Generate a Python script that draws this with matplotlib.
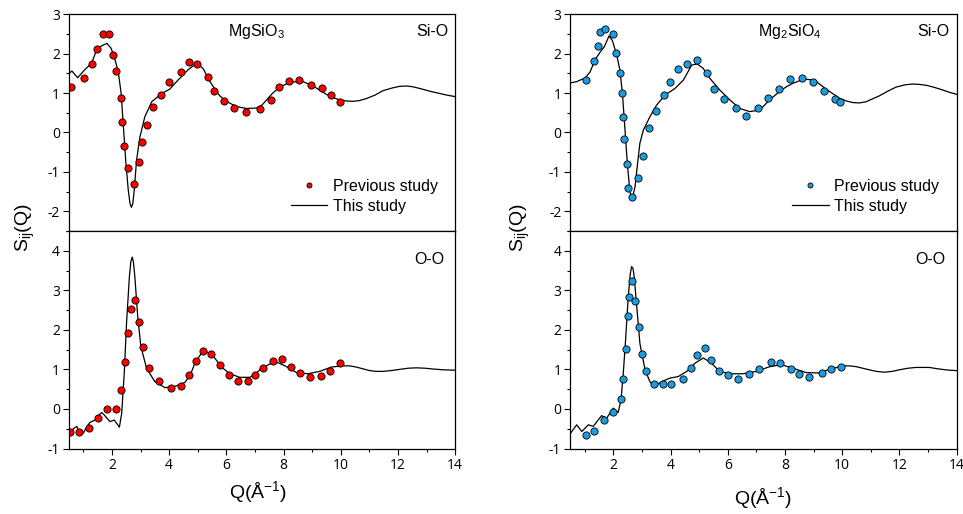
import matplotlib.pyplot as plt
from matplotlib.ticker import MultipleLocator

plt.rcParams['font.family'] = ['Liberation Sans', 'DejaVu Sans']
plt.rcParams['mathtext.default'] = 'regular'
plt.rcParams['axes.unicode_minus'] = False

# MgSiO3, Si-O partial
q_ms_sio = [0.5, 0.6, 0.8, 1.06, 1.29, 1.47, 1.64, 1.82, 1.97, 2.11, 2.22, 2.32, 2.40, 2.48, 2.57, 2.63,
            2.68, 2.73, 2.78, 2.86, 2.98, 3.15, 3.39, 3.74, 4.02, 4.31, 4.66, 4.96, 5.19, 5.42, 5.6, 5.77,
            6.0, 6.24, 6.47, 6.70, 7.05, 7.25, 7.40, 7.62, 7.86, 8.21, 8.45, 8.68, 9.03, 9.25, 9.49, 9.75,
            9.96, 10.2, 10.42, 10.65, 10.89, 11.2, 11.47, 11.8, 12.05, 12.3, 12.52, 12.8, 13.10, 13.4,
            13.7, 14.0]
s_ms_sio = [1.50, 1.56, 1.39, 1.60, 1.76, 2.11, 2.20, 2.26, 2.14, 1.84, 1.54, 1.00, 0.15, -0.70, -1.46, -1.80,
            -1.90, -1.80, -1.46, -0.70, -0.11, 0.40, 0.78, 0.99, 1.10, 1.33, 1.59, 1.76, 1.62, 1.30, 1.10, 0.93,
            0.79, 0.70, 0.64, 0.61, 0.62, 0.70, 0.82, 1.00, 1.15, 1.27, 1.29, 1.29, 1.18, 1.08, 0.97, 0.88,
            0.83, 0.80, 0.79, 0.81, 0.86, 0.95, 1.06, 1.13, 1.17, 1.18, 1.16, 1.11, 1.05, 1.00,
            0.95, 0.91]
q_ms_sio_ref = [0.57, 1.03, 1.30, 1.48, 1.69, 1.91, 2.02, 2.15, 2.30, 2.35, 2.41, 2.55, 2.76, 2.94, 3.06,
                3.21, 3.42, 3.72, 4.00, 4.40, 4.69, 4.97, 5.35, 5.55, 5.90, 6.28, 6.68, 7.17, 7.55, 7.84,
                8.20, 8.55, 8.97, 9.33, 9.65, 9.96]
s_ms_sio_ref = [1.16, 1.39, 1.74, 2.13, 2.49, 2.51, 1.96, 1.57, 0.88, 0.27, -0.35, -0.91, -1.30, -0.76, -0.24,
                0.19, 0.64, 0.96, 1.29, 1.54, 1.78, 1.74, 1.42, 1.05, 0.79, 0.62, 0.51, 0.60, 0.83, 1.16,
                1.31, 1.33, 1.20, 1.13, 0.94, 0.77]

# MgSiO3, O-O partial
q_ms_oo = [0.5, 0.65, 0.77, 0.88, 1.0, 1.12, 1.23, 1.41, 1.52, 1.64, 1.73, 1.82, 1.93, 2.08, 2.18, 2.26,
           2.34, 2.43, 2.51, 2.61, 2.66, 2.71, 2.75, 2.80, 2.90, 3.01, 3.21, 3.50, 3.85, 4.20, 4.55, 4.75,
           4.90, 5.1, 5.30, 5.54, 5.83, 6.12, 6.47, 6.82, 7.0, 7.17, 7.52, 7.81, 8.10, 8.45, 8.85, 9.26,
           9.67, 10.08, 10.3, 10.54, 10.8, 11.01, 11.25, 11.47, 11.75, 12.05, 12.35, 12.64, 12.95, 13.22,
           13.6, 14.0]
s_ms_oo = [-0.65, -0.50, -0.44, -0.61, -0.61, -0.45, -0.34, -0.28, -0.17, -0.09, -0.15, -0.23, -0.32, -0.28,
           -0.38, -0.46, -0.11, 0.90, 2.17, 3.35, 3.72, 3.84, 3.72, 3.35, 2.34, 1.58, 1.03, 0.69, 0.54, 0.57,
           0.67, 0.88, 1.16, 1.38, 1.45, 1.34, 1.06, 0.89, 0.80, 0.80, 0.88, 0.99, 1.14, 1.17, 1.07, 0.92,
           0.89, 0.95, 1.06, 1.09, 1.09, 1.06, 1.01, 0.97, 0.95, 0.95, 0.97, 1.0, 1.03, 1.04, 1.03, 1.01,
           0.99, 0.98]
q_ms_oo_ref = [0.53, 0.86, 1.21, 1.50, 1.83, 2.14, 2.30, 2.44, 2.55, 2.65, 2.82, 2.94, 3.08, 3.30, 3.64,
               4.06, 4.40, 4.68, 4.93, 5.18, 5.48, 5.77, 6.08, 6.39, 6.74, 7.00, 7.28, 7.63, 7.95, 8.25,
               8.56, 8.92, 9.31, 9.61, 9.98]
s_ms_oo_ref = [-0.57, -0.57, -0.47, -0.22, 0.0, 0.0, 0.48, 1.18, 1.91, 2.52, 2.75, 2.21, 1.56, 1.03, 0.70,
               0.53, 0.59, 0.86, 1.21, 1.46, 1.38, 1.10, 0.86, 0.70, 0.70, 0.86, 1.04, 1.22, 1.26, 1.07,
               0.92, 0.80, 0.84, 0.97, 1.17]

# Mg2SiO4, Si-O partial
q_fo_sio = [0.5, 0.72, 0.84, 1.01, 1.19, 1.36, 1.53, 1.69, 1.85, 1.97, 2.12, 2.23, 2.32, 2.41, 2.49, 2.58,
            2.66, 2.76, 2.85, 2.93, 3.05, 3.28, 3.52, 3.81, 4.16, 4.45, 4.74, 4.93, 5.14, 5.37, 5.72, 6.07,
            6.42, 6.77, 7.12, 7.47, 7.81, 8.05, 8.28, 8.50, 8.74, 9.03, 9.44, 9.91, 10.15, 10.37, 10.6,
            10.84, 11.05, 11.30, 11.6, 11.88, 12.2, 12.47, 12.7, 12.93, 13.2, 13.51, 13.75, 14.0]
s_fo_sio = [1.26, 1.29, 1.33, 1.38, 1.54, 1.84, 2.03, 2.18, 2.45, 2.33, 1.97, 1.59, 0.99, 0.06, -0.78, -1.50,
            -1.69, -1.38, -0.78, -0.27, 0.06, 0.40, 0.70, 0.95, 1.12, 1.33, 1.71, 1.74, 1.63, 1.38, 1.08, 0.83,
            0.61, 0.53, 0.57, 0.83, 1.04, 1.16, 1.25, 1.31, 1.35, 1.33, 1.10, 0.87, 0.80, 0.76, 0.75,
            0.78, 0.85, 0.93, 1.05, 1.15, 1.21, 1.23, 1.22, 1.20, 1.15, 1.08, 1.02, 0.97]
q_fo_sio_ref = [1.05, 1.31, 1.45, 1.55, 1.72, 1.98, 2.10, 2.23, 2.31, 2.34, 2.36, 2.47, 2.52, 2.65, 2.88,
                3.03, 3.26, 3.50, 3.76, 3.98, 4.27, 4.57, 4.93, 5.26, 5.53, 5.88, 6.28, 6.65, 7.07, 7.42,
                7.79, 8.19, 8.58, 8.99, 9.35, 9.76, 9.94]
s_fo_sio_ref = [1.33, 1.81, 2.20, 2.54, 2.63, 2.50, 2.03, 1.52, 0.99, 0.40, -0.16, -0.80, -1.40, -1.64, -1.15,
                -0.59, 0.12, 0.54, 0.94, 1.29, 1.61, 1.74, 1.85, 1.50, 1.11, 0.86, 0.61, 0.43, 0.61, 0.88,
                1.11, 1.36, 1.38, 1.27, 1.06, 0.86, 0.77]

# Mg2SiO4, O-O partial
q_fo_oo = [0.5, 0.72, 0.90, 1.13, 1.30, 1.45, 1.59, 1.77, 2.0, 2.17, 2.27, 2.35, 2.43, 2.52, 2.59, 2.64,
           2.69, 2.73, 2.82, 2.93, 3.11, 3.28, 3.43, 3.69, 3.98, 4.27, 4.57, 4.86, 5.15, 5.43, 5.72, 6.07,
           6.53, 7.0, 7.47, 7.87, 8.28, 8.74, 9.15, 9.56, 10.02, 10.25, 10.49, 10.72, 10.95, 11.2, 11.48,
           11.75, 12.0, 12.3, 12.58, 12.8, 13.05, 13.3, 13.51, 13.75, 14.0]
s_fo_oo = [-0.62, -0.40, -0.57, -0.40, -0.44, -0.30, -0.17, -0.23, 0.02, -0.09, 0.23, 0.91, 1.75, 2.80, 3.40,
           3.60, 3.55, 3.35, 2.59, 1.66, 0.99, 0.69, 0.57, 0.69, 0.78, 0.82, 0.95, 1.16, 1.29, 1.16, 0.95,
           0.89, 0.89, 0.95, 1.07, 1.12, 1.03, 0.92, 0.91, 1.0, 1.09, 1.09, 1.07, 1.03, 0.99, 0.95, 0.93,
           0.95, 0.99, 1.03, 1.05, 1.05, 1.05, 1.02, 1.0, 0.98, 0.97]
q_fo_oo_ref = [1.05, 1.31, 1.69, 1.99, 2.26, 2.34, 2.44, 2.52, 2.55, 2.65, 2.76, 2.90, 3.00, 3.16, 3.42,
               3.73, 4.01, 4.42, 4.71, 4.91, 5.20, 5.41, 5.70, 6.00, 6.36, 6.74, 7.08, 7.50, 7.84, 8.21,
               8.48, 8.85, 9.31, 9.60, 9.97]
s_fo_oo_ref = [-0.67, -0.56, -0.28, -0.07, 0.26, 0.75, 1.51, 2.36, 2.83, 3.24, 2.74, 2.06, 1.39, 0.96, 0.64,
               0.64, 0.62, 0.77, 1.03, 1.37, 1.54, 1.24, 0.96, 0.86, 0.75, 0.88, 1.00, 1.18, 1.15, 1.00,
               0.88, 0.80, 0.91, 1.00, 1.07]

columns = [
    (r'MgSiO$_3$', '#ff0000', 0.0717, 0.486,
     (q_ms_sio, s_ms_sio, q_ms_sio_ref, s_ms_sio_ref),
     (q_ms_oo, s_ms_oo, q_ms_oo_ref, s_ms_oo_ref)),
    (r'Mg$_2$SiO$_4$', '#1b9be0', 0.5923, 0.568,
     (q_fo_sio, s_fo_sio, q_fo_sio_ref, s_fo_sio_ref),
     (q_fo_oo, s_fo_oo, q_fo_oo_ref, s_fo_oo_ref)),
]

fig = plt.figure(figsize=(9.63, 5.14), dpi=100)

for name, color, x0, name_x, top, bottom in columns:
    ax1 = fig.add_axes([x0, 0.5506, 0.401, 0.4216])
    ax2 = fig.add_axes([x0, 0.1274, 0.401, 0.4232])

    for ax, (q, s, qr, sr), ylim in [(ax1, top, (-2.5, 3)), (ax2, bottom, (-1, 4.5))]:
        line, = ax.plot(q, s, color='black', lw=0.9)
        pts, = ax.plot(qr, sr, 'o', ms=5.2, mfc=color, mec='black', mew=0.6)
        ax.set_xlim(0.5, 14)
        ax.set_ylim(*ylim)
        ax.xaxis.set_major_locator(MultipleLocator(2))
        ax.xaxis.set_minor_locator(MultipleLocator(1))
        ax.yaxis.set_major_locator(MultipleLocator(1))
        ax.yaxis.set_minor_locator(MultipleLocator(0.5))
        ax.tick_params(which='both', direction='out', top=False, right=False,
                       width=0.8, labelsize=10, labelfontfamily='Open Sans', pad=2)
        ax.tick_params(which='major', length=4.5)
        ax.tick_params(which='minor', length=2.5)
        for sp in ax.spines.values():
            sp.set_linewidth(0.9)

    ax1.tick_params(axis='x', labelbottom=False)
    ax1.set_yticks([-2, -1, 0, 1, 2, 3])
    ax2.set_yticks([-1, 0, 1, 2, 3, 4])

    ax1.text(name_x, 0.92, name, transform=ax1.transAxes, ha='center', va='center', fontsize=11.5)
    ax1.text(0.982, 0.92, 'Si-O', transform=ax1.transAxes, ha='right', va='center', fontsize=11.5)
    ax2.text(0.972, 0.87, 'O-O', transform=ax2.transAxes, ha='right', va='center', fontsize=11.5)

    ax1.legend([pts, line], ['Previous study', 'This study'], loc='lower right',
               bbox_to_anchor=(0.955, 0.08), frameon=False, fontsize=11.5, markerscale=0.7,
               handlelength=2.3, handletextpad=0.35, labelspacing=0.3, borderpad=0, borderaxespad=0)

fig.text(0.026, 0.558, r'S$_{ij}$(Q)', rotation=90, ha='center', va='center', fontsize=14)
fig.text(0.540, 0.558, r'S$_{ij}$(Q)', rotation=90, ha='center', va='center', fontsize=14)
fig.text(0.268, 0.043, r'Q(Å$^{-1}$)', ha='center', va='center', fontsize=14)
fig.text(0.792, 0.031, r'Q(Å$^{-1}$)', ha='center', va='center', fontsize=14)

fig.savefig('out.png', dpi=100)
